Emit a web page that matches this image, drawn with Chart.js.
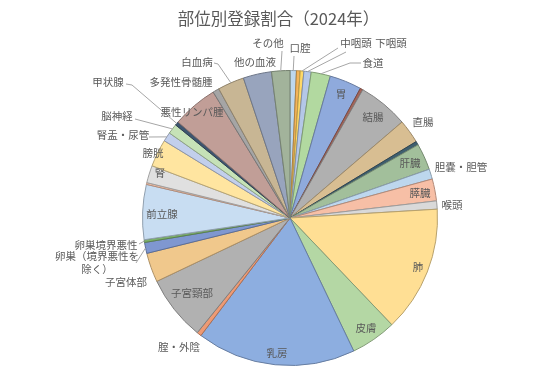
<!DOCTYPE html>
<html lang="ja">
<head>
<meta charset="utf-8">
<script src="https://cdn.jsdelivr.net/npm/chart.js@4.4.1/dist/chart.umd.min.js"></script>
<style>
  html, body { margin: 0; padding: 0; background: #fff; }
  #myCanvas { display: block; }
</style>
</head>
<body>
<canvas id="myCanvas" width="559" height="379"></canvas>
<script>
// 部位ごとの割合（%、図から読み取り）。名前が空のものはラベル無しの細い扇形
const sites = [
  '口腔', '', '中咽頭', '下咽頭', '食道', '胃', '', '結腸', '直腸', '',
  '肝臓', '胆嚢・胆管', '膵臓', '喉頭', '肺', '皮膚', '乳房', '腟・外陰', '子宮頸部', '子宮体部',
  '卵巣（境界悪性を除く）', '卵巣境界悪性', '前立腺', '', '腎', '膀胱', '腎盂・尿管', '脳神経', '甲状腺', '悪性リンパ腫',
  '多発性骨髄腫', '白血病', '他の血液', 'その他'
]
const shares = [
  0.7, 0.4, 0.4, 0.8, 2.1, 3.5, 0.3, 5.5, 2.6, 0.4,
  2.9, 1.1, 2.4, 0.9, 13.8, 5.0, 17.4, 0.5, 7.1, 3.2,
  1.2, 0.3, 6.0, 0.2, 1.9, 3.0, 1.0, 1.1, 0.4, 5.0,
  0.7, 2.9, 3.1, 2.0
]
const chartTitle = '部位別登録割合（2024年）'

const sliceColors = [
  '#BDD7EE', '#F4B459', '#FFD966', '#B4C7E7', '#B2D9A0', '#8FAADC', '#A5655A', '#B0B0B0', '#D8BE92', '#3F5F6F',
  '#A2BF9B', '#BDD7EE', '#F7BFA6', '#D9D9D9', '#FFDF94', '#B4D7A4', '#8DAEE0', '#EE9A74', '#B1B1B1', '#F0C88C',
  '#7F97D0', '#7DB26C', '#C8DDF2', '#F6C3AA', '#E0E0E0', '#FFE5A0', '#C2CFEC', '#C6E2B7', '#3E5670', '#C19E97',
  '#A5A5A5', '#C8B694', '#98A4BD', '#A2B39B'
]

// ラベル位置（円の中心からのずらし量 px）と引き出し線の始点
const labelPlacement = {
  'その他': { x: -22, y: -175, lead: [[-8, -167]] },
  '口腔': { x: 10, y: -170, lead: [[4, -162]] },
  '中咽頭': { x: 66, y: -175, lead: [[48, -170]] },
  '下咽頭': { x: 101, y: -175, lead: [[56, -166]] },
  '食道': { x: 83, y: -155, lead: [[71, -155], [60, -155]] },
  '胃': { x: 51, y: -124 },
  '結腸': { x: 83, y: -101 },
  '直腸': { x: 133, y: -96 },
  '肝臓': { x: 120, y: -55 },
  '胆嚢・胆管': { x: 171, y: -51 },
  '膵臓': { x: 130, y: -25 },
  '喉頭': { x: 162, y: -13 },
  '肺': { x: 128, y: 49 },
  '皮膚': { x: 76, y: 110 },
  '乳房': { x: -13, y: 135 },
  '腟・外陰': { x: -111, y: 129 },
  '子宮頸部': { x: -98, y: 75 },
  '子宮体部': { x: -164, y: 64 },
  '卵巣（境界悪性を除く）': { x: -193, y: 45, lines: ['卵巣（境界悪性を', '除く）'], lead: [[-154, 45]] },
  '卵巣境界悪性': { x: -184, y: 27, lead: [[-151, 26]] },
  '前立腺': { x: -128, y: -4 },
  '腎': { x: -130, y: -45 },
  '膀胱': { x: -137, y: -65 },
  '腎盂・尿管': { x: -167, y: -83, lead: [[-141, -81]] },
  '脳神経': { x: -173, y: -102, lead: [[-155, -99]] },
  '甲状腺': { x: -182, y: -136, lead: [[-164, -134], [-158, -133]] },
  '悪性リンパ腫': { x: -98, y: -106 },
  '多発性骨髄腫': { x: -109, y: -136 },
  '白血病': { x: -93, y: -156, lead: [[-76, -155], [-72, -154]] },
  '他の血液': { x: -35, y: -156 }
}

function darken(hex, f) {
  const n = parseInt(hex.slice(1), 16)
  const r = Math.round(((n >> 16) & 255) * f)
  const g = Math.round(((n >> 8) & 255) * f)
  const b = Math.round((n & 255) * f)
  return `rgb(${r},${g},${b})`
}

const pieLabels = {
  id: 'pieLabels',
  afterDatasetsDraw(chart) {
    const ctx = chart.ctx
    const arcs = chart.getDatasetMeta(0).data

    ctx.save()
    ctx.fillStyle = '#595959'
    ctx.font = '16.5px "Noto Sans CJK JP", sans-serif'
    ctx.textAlign = 'center'
    ctx.textBaseline = 'middle'
    ctx.fillText(chartTitle, chart.width / 2 - 1, 19)

    ctx.font = '10.5px "Noto Sans CJK JP", sans-serif'
    ctx.strokeStyle = '#A6A6A6'
    ctx.lineWidth = 1

    arcs.forEach((arc, i) => {
      const place = labelPlacement[sites[i]]
      if (!place) return
      const { x, y, startAngle, endAngle, outerRadius } = arc.getProps(['x', 'y', 'startAngle', 'endAngle', 'outerRadius'], true)
      const mid = (startAngle + endAngle) / 2

      if (place.lead) {
        ctx.beginPath()
        ctx.moveTo(x + place.lead[0][0], y + place.lead[0][1])
        for (let p of place.lead.slice(1)) ctx.lineTo(x + p[0], y + p[1])
        ctx.lineTo(x + Math.cos(mid) * outerRadius, y + Math.sin(mid) * outerRadius)
        ctx.stroke()
      }

      const lines = place.lines || [sites[i]]
      const lh = 13
      lines.forEach((t, k) => {
        ctx.fillText(t, x + place.x, y + place.y + (k - (lines.length - 1) / 2) * lh)
      })
    })
    ctx.restore()
  }
}

document.addEventListener('DOMContentLoaded', () => {
  createPieChart()
})

function createPieChart() {
  const context = document.getElementById('myCanvas').getContext('2d')

  new Chart(context, {
    type: 'pie',
    data: {
      labels: sites,
      datasets: [{
        data: shares,
        backgroundColor: sliceColors,
        borderColor: sliceColors.map(c => darken(c, 0.72)),
        borderWidth: 1
      }]
    },
    options: {
      responsive: false,
      animation: false,
      layout: {
        padding: { top: 70, bottom: 13, left: 21, right: 0 }
      },
      plugins: {
        legend: { display: false },
        tooltip: { enabled: false },
        title: { display: false }
      }
    },
    plugins: [pieLabels]
  })
}
</script>
</body>
</html>
